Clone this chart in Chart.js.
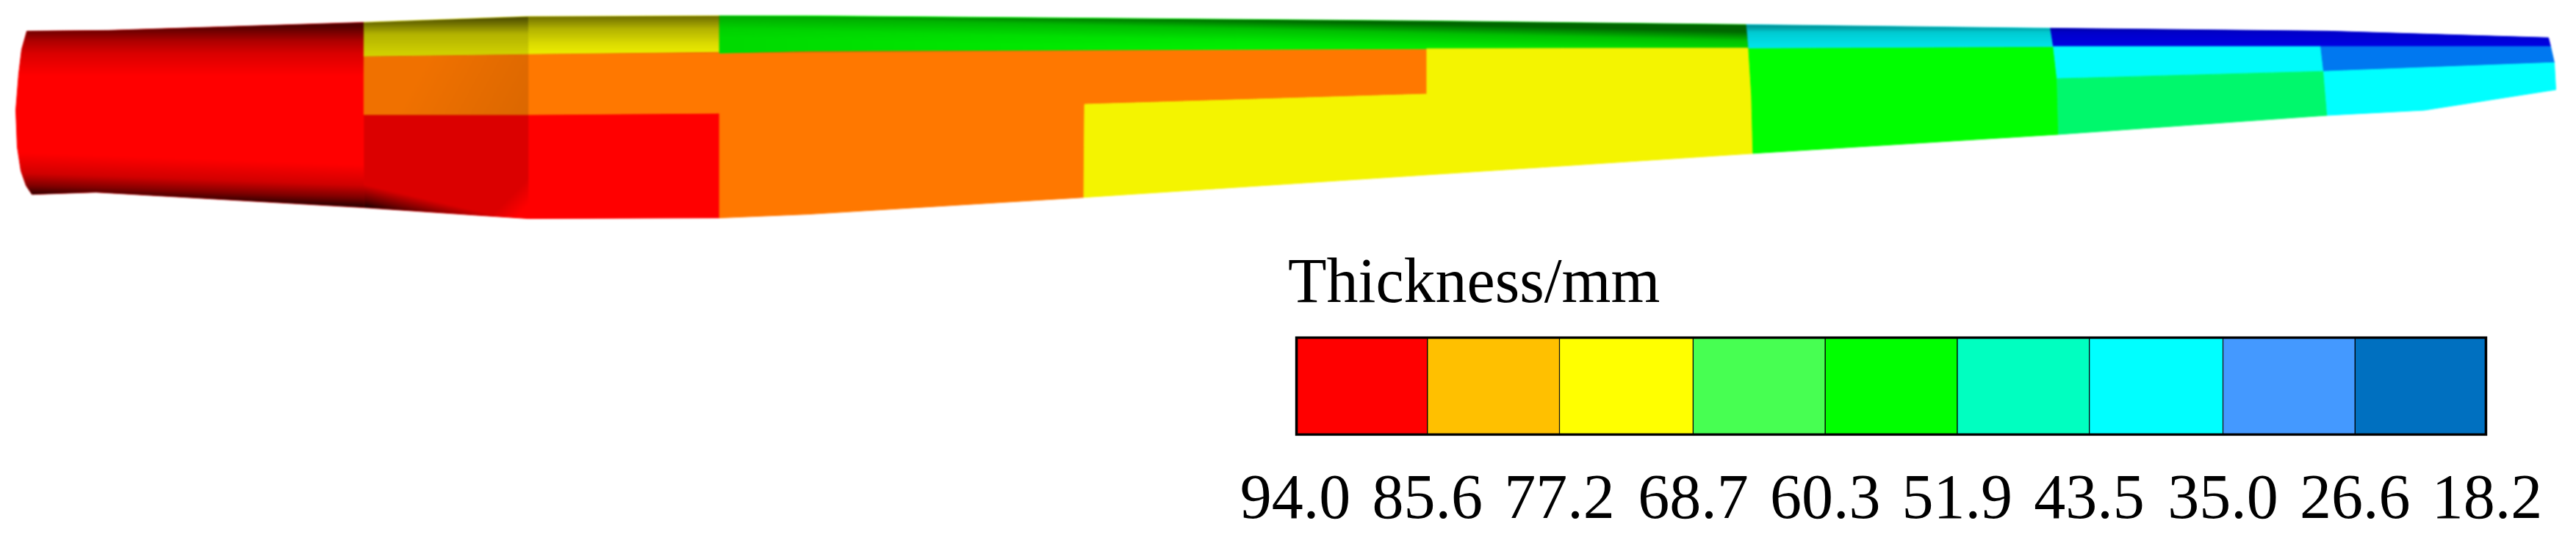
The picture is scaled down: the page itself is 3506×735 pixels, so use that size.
<!DOCTYPE html>
<html>
<head>
<meta charset="utf-8">
<title>Blade thickness</title>
<script src="https://cdn.jsdelivr.net/npm/chart.js@4"></script>
<style>
  html, body { margin: 0; background: #fff; }
  body { position: relative; width: 3506px; height: 735px; overflow: hidden; }
  canvas { position: absolute; }
  #blade { left: 0; top: 0; filter: blur(1px); }
  #scale { left: 1660px; top: 330px; }
</style>
</head>
<body>
<canvas id="blade" width="3506" height="320"></canvas>
<canvas id="scale" width="1846" height="405"></canvas>
<script>
// legend values
const tickValues = [94.0, 85.6, 77.2, 68.7, 60.3, 51.9, 43.5, 35.0, 26.6, 18.2];
const legendColors = ["#ff0000", "#ffc000", "#ffff00", "#47ff52", "#00ff00", "#00ffc0", "#00ffff", "#4499ff", "#0070c0"];
const legendTitle = "Thickness/mm";

// blade patches, outline as [length, height] in drawing units
const rootRed = [[36,42],[147,41],[495,30],[495,283],[130,262],[43,265],[35,253],[28,233],[23,200],[21,150],[25,100],[29,67]];
const lowerRed = [[495,156],[719,156],[979,154],[979,297],[719,298],[642,293],[495,283]];
const upperYellow = [[495,30],[719,22],[979,21],[979,72],[719,74],[495,77]];
const midOrange = [[495,77],[719,74],[979,71],[1100,69],[1942,66],[1942,128],[1476,142],[1475,269],[1100,292],[979,297],[979,154],[719,156],[495,156]];
const topGreen = [[979,21],[1100,21],[1942,28],[2377,33],[2380,65],[1942,66],[1100,69],[979,72]];
const bigYellow = [[1942,66],[2380,65],[2384,130],[2386,209],[1475,269],[1476,142],[1942,128]];
const bigGreen = [[2380,65],[2795,63],[2800,107],[2802,183],[2386,209],[2384,130]];
const topCyan = [[2377,33],[2791,38],[2795,63],[2380,65]];
const topBlue = [[2791,38],[3169,42],[3469,51],[3472,63],[2795,63]];
const midCyan = [[2795,63],[3159,63],[3163,97],[2800,107]];
const springGreen = [[2800,107],[3163,97],[3168,157],[2802,183]];
const tipBlue = [[3159,63],[3472,63],[3477,85],[3163,97]];
const tipCyan = [[3163,97],[3477,85],[3479,122],[3300,150],[3168,157]];

const patches = [rootRed, lowerRed, upperYellow, midOrange, topGreen, bigYellow, bigGreen, topCyan, topBlue, midCyan, springGreen, tipBlue, tipCyan];
const patchColors = ["#ff0000", "#ff0000", "#ffff00", "#ff7800", "#00ff00", "#f4f400", "#00ff00", "#00e6ee", "#0000e6", "#00fbfb", "#00f86c", "#0078f0", "#00ffff"];

// lighting of the 3D view: polygon, gradient start and end, alpha stops
const shadePolys = [
  [[36,42],[147,41],[495,30],[495,105],[25,105],[29,67]],
  [[43,265],[130,262],[495,283],[495,205],[23,205],[28,233],[35,253]],
  [[495,30],[719,22],[719,74],[495,77]],
  [[719,22],[979,21],[979,72],[719,74]],
  [[495,77],[719,74],[719,156],[495,156]],
  [[495,156],[719,156],[719,298],[642,293],[495,283]],
  [[495,240],[495,283],[642,293],[719,298],[719,240]],
  [[979,21],[1942,28],[2377,33],[2380,65],[1942,66],[979,72]],
  [[979,21],[1700,25],[1700,68],[979,72]],
  [[2377,33],[2791,38],[3169,42],[3469,51],[3472,63],[2380,65]]
];
const shadeFrom = [[262,35],[262,216],[600,25],[850,21],[580,80],[580,180],[587,273],[1678,26],[979,40],[2900,36]];
const shadeTo = [[262,103],[260,272],[600,77],[850,72],[719,156],[700,298],[580,303],[1677,68],[1700,40],[2900,62]];
const shadeAlpha = [
  [[0,.68],[.3,.32],[.55,.15],[1,0]],
  [[0,0],[.5,.18],[.8,.5],[1,.8]],
  [[0,.68],[.4,.3],[1,.17]],
  [[0,.58],[.35,.3],[.75,.14],[1,.08]],
  [[0,.06],[1,.14]],
  [[0,.14],[.85,.14],[1,0]],
  [[0,0],[.6,.5],[1,.9]],
  [[0,.6],[.3,.25],[.7,.09],[1,.05]],
  [[0,.1],[1,0]],
  [[0,.35],[.3,.12],[1,.02]]
];

function toPoints(poly) {
  return poly.concat([poly[0]]).map(p => ({ x: p[0], y: p[1] }));
}

function shadeFill(i) {
  return function (c) {
    const { x, y } = c.chart.scales;
    const x0 = x ? x.getPixelForValue(shadeFrom[i][0]) : NaN;
    const y0 = y ? y.getPixelForValue(shadeFrom[i][1]) : NaN;
    const x1 = x ? x.getPixelForValue(shadeTo[i][0]) : NaN;
    const y1 = y ? y.getPixelForValue(shadeTo[i][1]) : NaN;
    if (![x0, y0, x1, y1].every(isFinite)) return "rgba(0,0,0,0)"; // scales not laid out yet
    const g = c.chart.ctx.createLinearGradient(x0, y0, x1, y1);
    shadeAlpha[i].forEach(s => g.addColorStop(s[0], "rgba(0,0,0," + s[1] + ")"));
    return g;
  };
}

const patchSets = patches.map((poly, i) => ({
  data: toPoints(poly),
  backgroundColor: patchColors[i],
  borderColor: patchColors[i],
  borderWidth: 1,
  fill: "shape",
  showLine: true,
  pointRadius: 0,
  tension: 0
}));
const shadeSets = shadePolys.map((poly, i) => ({
  data: toPoints(poly),
  backgroundColor: shadeFill(i),
  borderWidth: 0,
  fill: "shape",
  showLine: true,
  pointRadius: 0,
  tension: 0
}));
// chart.js paints the lowest order last
const bladeSets = patchSets.concat(shadeSets);
bladeSets.forEach((d, i) => { d.order = bladeSets.length - i; });

const bladeChart = new Chart(document.getElementById("blade"), {
  type: "scatter",
  data: { datasets: bladeSets },
  options: {
    responsive: false,
    animation: false,
    clip: false,
    plugins: { legend: { display: false }, tooltip: { enabled: false } },
    scales: {
      x: { display: false, min: 0, max: 3506 },
      y: { display: false, min: 0, max: 320, reverse: true }
    }
  }
});
bladeChart.update(); // second pass so the gradients see laid out scales

const cellSets = legendColors.map((color, i) => ({
  data: [[tickValues[i + 1], tickValues[i]]],
  backgroundColor: color,
  borderColor: "#000",
  borderWidth: 1,
  borderSkipped: false,
  order: 1
}));
cellSets.push({
  data: [[tickValues[tickValues.length - 1], tickValues[0]]],
  backgroundColor: "rgba(0,0,0,0)",
  borderColor: "#000",
  borderWidth: 3,
  borderSkipped: false,
  order: 0
});

const serif = '"Liberation Serif"';

new Chart(document.getElementById("scale"), {
  type: "bar",
  data: { labels: [""], datasets: cellSets },
  options: {
    indexAxis: "y",
    responsive: false,
    animation: false,
    clip: false,
    grouped: false,
    barPercentage: 1,
    categoryPercentage: 1,
    layout: { padding: { left: 93, right: 121, top: 0, bottom: 0 } },
    plugins: {
      legend: { display: false },
      tooltip: { enabled: false },
      title: {
        display: true,
        text: legendTitle,
        align: "start",
        color: "#000",
        font: { family: serif, size: 86, weight: "normal", lineHeight: 1 },
        padding: { top: 15, bottom: 27 }
      }
    },
    scales: {
      x: {
        type: "linear",
        reverse: true,
        min: tickValues[tickValues.length - 1],
        max: tickValues[0],
        grid: { display: false },
        border: { display: false },
        afterBuildTicks: scale => { scale.ticks = tickValues.map(v => ({ value: v })); },
        afterFit: scale => { scale.paddingLeft = 0; scale.paddingRight = 0; scale.height = 142; },
        ticks: {
          autoSkip: false,
          maxRotation: 0,
          minRotation: 0,
          padding: 30,
          color: "#000",
          font: { family: serif, size: 86 },
          callback: v => Number(v).toFixed(1)
        }
      },
      y: {
        grid: { display: false },
        border: { display: false },
        afterFit: scale => { scale.width = 10; },
        ticks: { display: false }
      }
    }
  }
});
</script>
</body>
</html>
